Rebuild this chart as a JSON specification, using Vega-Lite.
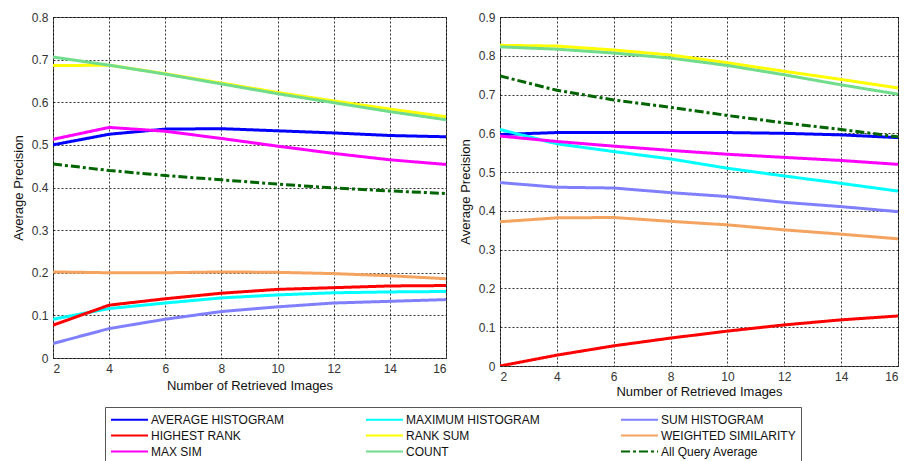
{
  "$schema": "https://vega.github.io/schema/vega-lite/v6.json",
  "padding": {"left": 11, "top": 10, "right": 0, "bottom": 0},
  "background": "white",
  "config": {
    "font": "Liberation Sans",
    "view": {"stroke": "#555", "strokeWidth": 1},
    "axis": {
      "labelFont": "Liberation Sans",
      "titleFont": "Liberation Sans",
      "labelFontSize": 12,
      "titleFontSize": 13,
      "titleFontWeight": "normal",
      "labelColor": "#333",
      "titleColor": "#111",
      "domain": false,
      "ticks": false,
      "labelPadding": 5,
      "grid": true,
      "gridColor": "#000",
      "gridDash": [2, 2],
      "gridOpacity": 0.8,
      "gridWidth": 1
    }
  },
  "data": {
    "values": [
      {"panel": "L", "series": "AVERAGE HISTOGRAM", "x": 2, "y": 0.5},
      {"panel": "L", "series": "AVERAGE HISTOGRAM", "x": 4, "y": 0.525},
      {"panel": "L", "series": "AVERAGE HISTOGRAM", "x": 6, "y": 0.537},
      {"panel": "L", "series": "AVERAGE HISTOGRAM", "x": 8, "y": 0.538},
      {"panel": "L", "series": "AVERAGE HISTOGRAM", "x": 10, "y": 0.533},
      {"panel": "L", "series": "AVERAGE HISTOGRAM", "x": 12, "y": 0.528},
      {"panel": "L", "series": "AVERAGE HISTOGRAM", "x": 14, "y": 0.522},
      {"panel": "L", "series": "AVERAGE HISTOGRAM", "x": 16, "y": 0.519},
      {"panel": "L", "series": "MAXIMUM HISTOGRAM", "x": 2, "y": 0.091},
      {"panel": "L", "series": "MAXIMUM HISTOGRAM", "x": 4, "y": 0.116},
      {"panel": "L", "series": "MAXIMUM HISTOGRAM", "x": 6, "y": 0.129},
      {"panel": "L", "series": "MAXIMUM HISTOGRAM", "x": 8, "y": 0.141},
      {"panel": "L", "series": "MAXIMUM HISTOGRAM", "x": 10, "y": 0.148},
      {"panel": "L", "series": "MAXIMUM HISTOGRAM", "x": 12, "y": 0.153},
      {"panel": "L", "series": "MAXIMUM HISTOGRAM", "x": 14, "y": 0.155},
      {"panel": "L", "series": "MAXIMUM HISTOGRAM", "x": 16, "y": 0.156},
      {"panel": "L", "series": "SUM HISTOGRAM", "x": 2, "y": 0.034},
      {"panel": "L", "series": "SUM HISTOGRAM", "x": 4, "y": 0.069},
      {"panel": "L", "series": "SUM HISTOGRAM", "x": 6, "y": 0.091},
      {"panel": "L", "series": "SUM HISTOGRAM", "x": 8, "y": 0.109},
      {"panel": "L", "series": "SUM HISTOGRAM", "x": 10, "y": 0.12},
      {"panel": "L", "series": "SUM HISTOGRAM", "x": 12, "y": 0.129},
      {"panel": "L", "series": "SUM HISTOGRAM", "x": 14, "y": 0.133},
      {"panel": "L", "series": "SUM HISTOGRAM", "x": 16, "y": 0.137},
      {"panel": "L", "series": "HIGHEST RANK", "x": 2, "y": 0.077},
      {"panel": "L", "series": "HIGHEST RANK", "x": 4, "y": 0.124},
      {"panel": "L", "series": "HIGHEST RANK", "x": 6, "y": 0.139},
      {"panel": "L", "series": "HIGHEST RANK", "x": 8, "y": 0.152},
      {"panel": "L", "series": "HIGHEST RANK", "x": 10, "y": 0.161},
      {"panel": "L", "series": "HIGHEST RANK", "x": 12, "y": 0.165},
      {"panel": "L", "series": "HIGHEST RANK", "x": 14, "y": 0.169},
      {"panel": "L", "series": "HIGHEST RANK", "x": 16, "y": 0.17},
      {"panel": "L", "series": "RANK SUM", "x": 2, "y": 0.686},
      {"panel": "L", "series": "RANK SUM", "x": 4, "y": 0.687},
      {"panel": "L", "series": "RANK SUM", "x": 6, "y": 0.667},
      {"panel": "L", "series": "RANK SUM", "x": 8, "y": 0.645},
      {"panel": "L", "series": "RANK SUM", "x": 10, "y": 0.623},
      {"panel": "L", "series": "RANK SUM", "x": 12, "y": 0.603},
      {"panel": "L", "series": "RANK SUM", "x": 14, "y": 0.584},
      {"panel": "L", "series": "RANK SUM", "x": 16, "y": 0.566},
      {"panel": "L", "series": "WEIGHTED SIMILARITY", "x": 2, "y": 0.202},
      {"panel": "L", "series": "WEIGHTED SIMILARITY", "x": 4, "y": 0.2},
      {"panel": "L", "series": "WEIGHTED SIMILARITY", "x": 6, "y": 0.2},
      {"panel": "L", "series": "WEIGHTED SIMILARITY", "x": 8, "y": 0.202},
      {"panel": "L", "series": "WEIGHTED SIMILARITY", "x": 10, "y": 0.201},
      {"panel": "L", "series": "WEIGHTED SIMILARITY", "x": 12, "y": 0.198},
      {"panel": "L", "series": "WEIGHTED SIMILARITY", "x": 14, "y": 0.193},
      {"panel": "L", "series": "WEIGHTED SIMILARITY", "x": 16, "y": 0.186},
      {"panel": "L", "series": "MAX SIM", "x": 2, "y": 0.513},
      {"panel": "L", "series": "MAX SIM", "x": 4, "y": 0.541},
      {"panel": "L", "series": "MAX SIM", "x": 6, "y": 0.532},
      {"panel": "L", "series": "MAX SIM", "x": 8, "y": 0.515},
      {"panel": "L", "series": "MAX SIM", "x": 10, "y": 0.497},
      {"panel": "L", "series": "MAX SIM", "x": 12, "y": 0.48},
      {"panel": "L", "series": "MAX SIM", "x": 14, "y": 0.465},
      {"panel": "L", "series": "MAX SIM", "x": 16, "y": 0.454},
      {"panel": "L", "series": "COUNT", "x": 2, "y": 0.706},
      {"panel": "L", "series": "COUNT", "x": 4, "y": 0.687},
      {"panel": "L", "series": "COUNT", "x": 6, "y": 0.666},
      {"panel": "L", "series": "COUNT", "x": 8, "y": 0.643},
      {"panel": "L", "series": "COUNT", "x": 10, "y": 0.62},
      {"panel": "L", "series": "COUNT", "x": 12, "y": 0.599},
      {"panel": "L", "series": "COUNT", "x": 14, "y": 0.578},
      {"panel": "L", "series": "COUNT", "x": 16, "y": 0.559},
      {"panel": "L", "series": "All Query Average", "x": 2, "y": 0.455},
      {"panel": "L", "series": "All Query Average", "x": 4, "y": 0.44},
      {"panel": "L", "series": "All Query Average", "x": 6, "y": 0.428},
      {"panel": "L", "series": "All Query Average", "x": 8, "y": 0.418},
      {"panel": "L", "series": "All Query Average", "x": 10, "y": 0.408},
      {"panel": "L", "series": "All Query Average", "x": 12, "y": 0.399},
      {"panel": "L", "series": "All Query Average", "x": 14, "y": 0.392},
      {"panel": "L", "series": "All Query Average", "x": 16, "y": 0.386},
      {"panel": "R", "series": "AVERAGE HISTOGRAM", "x": 2, "y": 0.597},
      {"panel": "R", "series": "AVERAGE HISTOGRAM", "x": 4, "y": 0.602},
      {"panel": "R", "series": "AVERAGE HISTOGRAM", "x": 6, "y": 0.602},
      {"panel": "R", "series": "AVERAGE HISTOGRAM", "x": 8, "y": 0.602},
      {"panel": "R", "series": "AVERAGE HISTOGRAM", "x": 10, "y": 0.602},
      {"panel": "R", "series": "AVERAGE HISTOGRAM", "x": 12, "y": 0.6},
      {"panel": "R", "series": "AVERAGE HISTOGRAM", "x": 14, "y": 0.596},
      {"panel": "R", "series": "AVERAGE HISTOGRAM", "x": 16, "y": 0.589},
      {"panel": "R", "series": "MAXIMUM HISTOGRAM", "x": 2, "y": 0.61},
      {"panel": "R", "series": "MAXIMUM HISTOGRAM", "x": 4, "y": 0.573},
      {"panel": "R", "series": "MAXIMUM HISTOGRAM", "x": 6, "y": 0.553},
      {"panel": "R", "series": "MAXIMUM HISTOGRAM", "x": 8, "y": 0.534},
      {"panel": "R", "series": "MAXIMUM HISTOGRAM", "x": 10, "y": 0.51},
      {"panel": "R", "series": "MAXIMUM HISTOGRAM", "x": 12, "y": 0.49},
      {"panel": "R", "series": "MAXIMUM HISTOGRAM", "x": 14, "y": 0.471},
      {"panel": "R", "series": "MAXIMUM HISTOGRAM", "x": 16, "y": 0.451},
      {"panel": "R", "series": "SUM HISTOGRAM", "x": 2, "y": 0.473},
      {"panel": "R", "series": "SUM HISTOGRAM", "x": 4, "y": 0.461},
      {"panel": "R", "series": "SUM HISTOGRAM", "x": 6, "y": 0.459},
      {"panel": "R", "series": "SUM HISTOGRAM", "x": 8, "y": 0.447},
      {"panel": "R", "series": "SUM HISTOGRAM", "x": 10, "y": 0.437},
      {"panel": "R", "series": "SUM HISTOGRAM", "x": 12, "y": 0.422},
      {"panel": "R", "series": "SUM HISTOGRAM", "x": 14, "y": 0.411},
      {"panel": "R", "series": "SUM HISTOGRAM", "x": 16, "y": 0.398},
      {"panel": "R", "series": "HIGHEST RANK", "x": 2, "y": 0.0},
      {"panel": "R", "series": "HIGHEST RANK", "x": 4, "y": 0.028},
      {"panel": "R", "series": "HIGHEST RANK", "x": 6, "y": 0.052},
      {"panel": "R", "series": "HIGHEST RANK", "x": 8, "y": 0.072},
      {"panel": "R", "series": "HIGHEST RANK", "x": 10, "y": 0.09},
      {"panel": "R", "series": "HIGHEST RANK", "x": 12, "y": 0.106},
      {"panel": "R", "series": "HIGHEST RANK", "x": 14, "y": 0.119},
      {"panel": "R", "series": "HIGHEST RANK", "x": 16, "y": 0.129},
      {"panel": "R", "series": "RANK SUM", "x": 2, "y": 0.827},
      {"panel": "R", "series": "RANK SUM", "x": 4, "y": 0.825},
      {"panel": "R", "series": "RANK SUM", "x": 6, "y": 0.815},
      {"panel": "R", "series": "RANK SUM", "x": 8, "y": 0.802},
      {"panel": "R", "series": "RANK SUM", "x": 10, "y": 0.782},
      {"panel": "R", "series": "RANK SUM", "x": 12, "y": 0.76},
      {"panel": "R", "series": "RANK SUM", "x": 14, "y": 0.739},
      {"panel": "R", "series": "RANK SUM", "x": 16, "y": 0.717},
      {"panel": "R", "series": "WEIGHTED SIMILARITY", "x": 2, "y": 0.372},
      {"panel": "R", "series": "WEIGHTED SIMILARITY", "x": 4, "y": 0.382},
      {"panel": "R", "series": "WEIGHTED SIMILARITY", "x": 6, "y": 0.383},
      {"panel": "R", "series": "WEIGHTED SIMILARITY", "x": 8, "y": 0.373},
      {"panel": "R", "series": "WEIGHTED SIMILARITY", "x": 10, "y": 0.364},
      {"panel": "R", "series": "WEIGHTED SIMILARITY", "x": 12, "y": 0.351},
      {"panel": "R", "series": "WEIGHTED SIMILARITY", "x": 14, "y": 0.34},
      {"panel": "R", "series": "WEIGHTED SIMILARITY", "x": 16, "y": 0.328},
      {"panel": "R", "series": "MAX SIM", "x": 2, "y": 0.593},
      {"panel": "R", "series": "MAX SIM", "x": 4, "y": 0.579},
      {"panel": "R", "series": "MAX SIM", "x": 6, "y": 0.567},
      {"panel": "R", "series": "MAX SIM", "x": 8, "y": 0.556},
      {"panel": "R", "series": "MAX SIM", "x": 10, "y": 0.546},
      {"panel": "R", "series": "MAX SIM", "x": 12, "y": 0.538},
      {"panel": "R", "series": "MAX SIM", "x": 14, "y": 0.53},
      {"panel": "R", "series": "MAX SIM", "x": 16, "y": 0.52},
      {"panel": "R", "series": "COUNT", "x": 2, "y": 0.823},
      {"panel": "R", "series": "COUNT", "x": 4, "y": 0.817},
      {"panel": "R", "series": "COUNT", "x": 6, "y": 0.807},
      {"panel": "R", "series": "COUNT", "x": 8, "y": 0.794},
      {"panel": "R", "series": "COUNT", "x": 10, "y": 0.775},
      {"panel": "R", "series": "COUNT", "x": 12, "y": 0.751},
      {"panel": "R", "series": "COUNT", "x": 14, "y": 0.725},
      {"panel": "R", "series": "COUNT", "x": 16, "y": 0.701},
      {"panel": "R", "series": "All Query Average", "x": 2, "y": 0.748},
      {"panel": "R", "series": "All Query Average", "x": 4, "y": 0.711},
      {"panel": "R", "series": "All Query Average", "x": 6, "y": 0.686},
      {"panel": "R", "series": "All Query Average", "x": 8, "y": 0.667},
      {"panel": "R", "series": "All Query Average", "x": 10, "y": 0.646},
      {"panel": "R", "series": "All Query Average", "x": 12, "y": 0.627},
      {"panel": "R", "series": "All Query Average", "x": 14, "y": 0.61},
      {"panel": "R", "series": "All Query Average", "x": 16, "y": 0.591}
    ]
  },
  "resolve": {"scale": {"color": "shared", "strokeDash": "shared"}, "legend": {"color": "shared", "strokeDash": "shared"}},
  "spacing": 11,
  "hconcat": [
    {
      "width": 393,
      "height": 341,
      "transform": [{"filter": "datum.panel === 'L'"}],
      "mark": {"type": "line", "strokeWidth": 3, "clip": true},
      "encoding": {
        "x": {"field": "x", "type": "quantitative", "scale": {"domain": [2, 16], "nice": false}, "axis": {"values": [2, 4, 6, 8, 10, 12, 14, 16], "title": "Number of Retrieved Images", "titlePadding": 5}},
        "y": {"field": "y", "type": "quantitative", "scale": {"domain": [0, 0.8], "nice": false}, "axis": {"values": [0, 0.1, 0.2, 0.3, 0.4, 0.5, 0.6, 0.7, 0.8], "format": "~g", "title": "Average Precision", "titlePadding": 6}},
        "color": {
          "field": "series", "type": "nominal", "title": null,
          "scale": {
            "domain": ["AVERAGE HISTOGRAM", "MAXIMUM HISTOGRAM", "SUM HISTOGRAM", "HIGHEST RANK", "RANK SUM", "WEIGHTED SIMILARITY", "MAX SIM", "COUNT", "All Query Average"],
            "range": ["#0000ff", "#00ffff", "#8080ff", "#ff0000", "#ffff00", "#f4a460", "#ff00ff", "#70dc8c", "#006400"]
          },
          "legend": {
            "orient": "none", "legendX": 52, "legendY": 390, "columns": 3, "direction": "horizontal",
            "symbolType": "M-3,0H3", "symbolSize": 152, "symbolStrokeWidth": 2, "symbolOffset": 12,
            "labelFontSize": 12, "labelFont": "Liberation Sans", "labelColor": "#111", "labelLimit": 300,
            "strokeColor": "#555", "padding": 5, "columnPadding": 76, "rowPadding": 2, "gridAlign": "all", "labelOffset": 14
          }
        },
        "strokeDash": {
          "field": "series", "type": "nominal", "title": null,
          "scale": {
            "domain": ["AVERAGE HISTOGRAM", "MAXIMUM HISTOGRAM", "SUM HISTOGRAM", "HIGHEST RANK", "RANK SUM", "WEIGHTED SIMILARITY", "MAX SIM", "COUNT", "All Query Average"],
            "range": [[1, 0], [1, 0], [1, 0], [1, 0], [1, 0], [1, 0], [1, 0], [1, 0], [9, 3, 3, 3]]
          }
        }
      }
    },
    {
      "width": 398,
      "height": 349,
      "transform": [{"filter": "datum.panel === 'R'"}],
      "mark": {"type": "line", "strokeWidth": 3, "clip": true},
      "encoding": {
        "x": {"field": "x", "type": "quantitative", "scale": {"domain": [2, 16], "nice": false}, "axis": {"values": [2, 4, 6, 8, 10, 12, 14, 16], "title": "Number of Retrieved Images", "titlePadding": 3}},
        "y": {"field": "y", "type": "quantitative", "scale": {"domain": [0, 0.9], "nice": false}, "axis": {"values": [0, 0.1, 0.2, 0.3, 0.4, 0.5, 0.6, 0.7, 0.8, 0.9], "format": "~g", "title": "Average Precision", "titlePadding": 6}},
        "color": {"field": "series", "type": "nominal", "title": null},
        "strokeDash": {"field": "series", "type": "nominal", "title": null}
      }
    }
  ]
}
